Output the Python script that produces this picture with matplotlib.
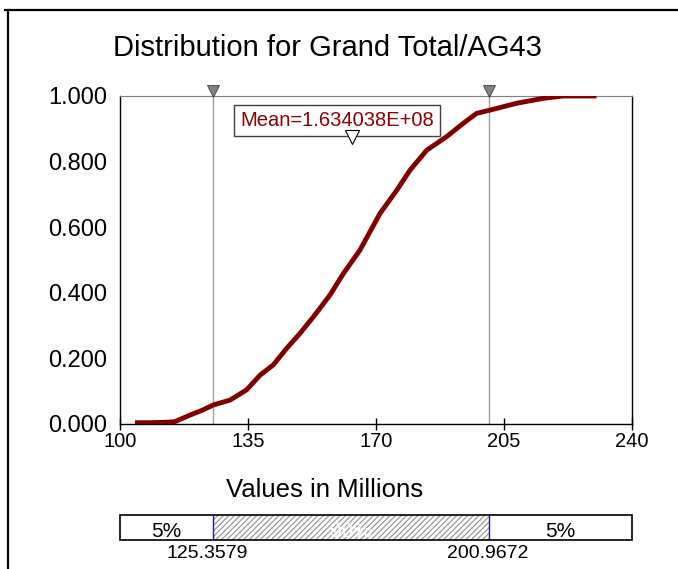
import matplotlib.pyplot as plt
from matplotlib.lines import Line2D
from matplotlib.patches import Rectangle

plt.rcParams["font.family"] = ["Liberation Sans", "DejaVu Sans"]
plt.rcParams["hatch.linewidth"] = 0.8

# =========================
# data (values in millions)
cdf_x = [104.1, 108.0, 112.0, 115.0, 119.1, 122.5, 125.5, 130.1, 134.6, 138.3,
         141.9, 145.6, 149.2, 152.9, 157.4, 161.1, 165.6, 171.1, 175.7, 179.3,
         183.9, 189.3, 193.9, 197.5, 201.2, 208.5, 215.8, 221.2, 230.3]
cdf_y = [0.004, 0.004, 0.005, 0.007, 0.027, 0.042, 0.058, 0.073, 0.104, 0.149,
         0.180, 0.231, 0.276, 0.327, 0.393, 0.459, 0.530, 0.642, 0.713, 0.774,
         0.835, 0.876, 0.917, 0.947, 0.957, 0.978, 0.993, 1.000, 1.000]

p5 = 125.3579
p95 = 200.9672
mean_val = 163.4038
mean_label = "Mean=1.634038E+08"

x_ticks = [100, 135, 170, 205, 240]
y_ticks = [0.0, 0.2, 0.4, 0.6, 0.8, 1.0]
band_labels = ["5%", "90%", "5%"]

# =========================
fig = plt.figure(figsize=(6.78, 5.69), dpi=100)

W, H = 678, 569
ax = fig.add_axes([120 / W, 1 - 424 / H, 512 / W, 328 / H])

ax.plot(cdf_x, cdf_y, color="#800000", lw=3.5, solid_capstyle="butt", zorder=3)

# percentile lines + markers on top
for v in (p5, p95):
    ax.axvline(v, color="#a0a0a0", lw=1.0, zorder=1)
    ax.plot(v, 1.016, marker="v", ms=9, mfc="#808080", mec="#404040",
            mew=0.6, clip_on=False, zorder=5)

# mean marker and box
ax.plot(mean_val, 0.875, marker="v", ms=10, mfc="white", mec="black",
        mew=0.8, zorder=6)
ax.text(159.3, 0.925, mean_label, color="#8b0000", fontsize=14.5,
        ha="center", va="center", zorder=5,
        bbox=dict(boxstyle="square,pad=0.3", fc="white", ec="#404040", lw=1.0))

ax.set_xlim(100, 240)
ax.set_ylim(0, 1)
ax.set_xticks(x_ticks)
ax.set_yticks(y_ticks)
ax.set_yticklabels([f"{t:.3f}" for t in y_ticks])
ax.tick_params(axis="x", direction="inout", length=9, width=1.0, labelsize=14.5, pad=1)
ax.tick_params(axis="y", length=0, labelsize=17, pad=9)
ax.spines["top"].set_color("#808080")
for s in ("left", "right", "bottom"):
    ax.spines[s].set_color("black")
    ax.spines[s].set_linewidth(1.0)

fig.text(327 / W, 1 - 48 / H, "Distribution for Grand Total/AG43",
         fontsize=21, ha="center", va="center")
fig.text(325 / W, 1 - 490 / H, "Values in Millions",
         fontsize=18.5, ha="center", va="center")

# =========================
# 90% band bar below
bx = fig.add_axes([120 / W, 1 - 540 / H, 512 / W, 25 / H])
bx.set_xlim(100, 240)
bx.set_ylim(0, 1)
bx.axis("off")
bx.add_patch(Rectangle((p5, 0), p95 - p5, 1, fc="white", ec="#909090",
                       lw=0, hatch="//////"))
bx.add_patch(Rectangle((100, 0), 140, 1, fc="none", ec="black", lw=1.2,
                       clip_on=False))
for v in (p5, p95):
    bx.plot([v, v], [0, 1], color="#1a1a80", lw=1.0)
bx.text((100 + p5) / 2, 0.35, band_labels[0], fontsize=15, ha="center", va="center")
bx.text((p5 + p95) / 2, 0.35, band_labels[1], fontsize=15, ha="center",
        va="center", color="white")
bx.text((p95 + 240) / 2, 0.35, band_labels[2], fontsize=15, ha="center", va="center")

fig.text(207 / W, 1 - 554 / H, f"{p5:.4f}", fontsize=14,
         ha="center", va="center")
fig.text(488 / W, 1 - 554 / H, f"{p95:.4f}", fontsize=14,
         ha="center", va="center")

# outer frame (left and top edges only visible)
fig.add_artist(Line2D([5 / W, 1], [1 - 10 / H, 1 - 10 / H], color="black", lw=1.6))
fig.add_artist(Line2D([8 / W, 8 / W], [0, 1 - 10 / H], color="black", lw=1.6))

fig.savefig("out.png", dpi=100)
